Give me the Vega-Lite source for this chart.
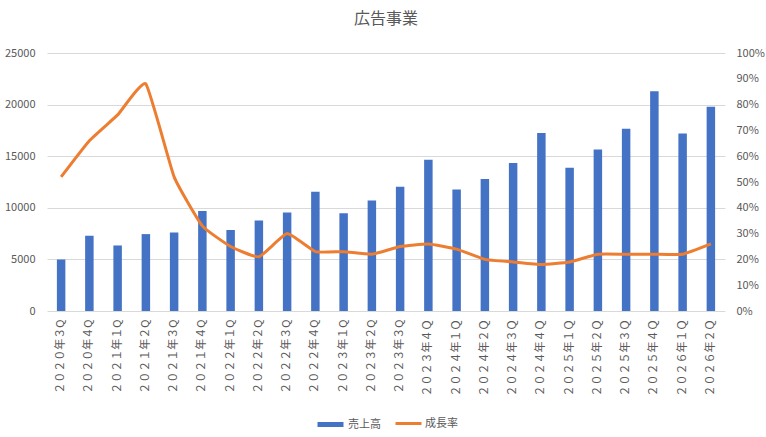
{
  "$schema": "https://vega.github.io/schema/vega-lite/v6.json",
  "width": 678,
  "height": 258,
  "autosize": {"type": "none"},
  "padding": {"left": 47, "top": 53, "right": 41, "bottom": 126},
  "title": {
    "text": "広告事業",
    "anchor": "middle",
    "offset": 20,
    "fontSize": 16,
    "fontWeight": "normal",
    "color": "#595959",
    "font": "Noto Sans CJK JP"
  },
  "config": {
    "view": {"stroke": null},
    "font": "Noto Sans CJK JP",
    "axis": {
      "labelColor": "#595959",
      "labelFontSize": 11,
      "labelFont": "Noto Sans CJK JP",
      "domain": false,
      "ticks": false,
      "gridColor": "#D9D9D9",
      "gridWidth": 1,
      "title": null
    },
    "legend": {
      "labelColor": "#595959",
      "labelFontSize": 11,
      "labelFont": "Noto Sans CJK JP"
    }
  },
  "data": {
    "values": [
      {"q": "２０２０年３Q", "sales": 5000, "rate": 0.52},
      {"q": "２０２０年４Q", "sales": 7300, "rate": 0.66},
      {"q": "２０２１年１Q", "sales": 6350, "rate": 0.76},
      {"q": "２０２１年２Q", "sales": 7450, "rate": 0.88},
      {"q": "２０２１年３Q", "sales": 7600, "rate": 0.52},
      {"q": "２０２１年４Q", "sales": 9700, "rate": 0.33},
      {"q": "２０２２年１Q", "sales": 7850, "rate": 0.25},
      {"q": "２０２２年２Q", "sales": 8770, "rate": 0.21},
      {"q": "２０２２年３Q", "sales": 9550, "rate": 0.30},
      {"q": "２０２２年４Q", "sales": 11550, "rate": 0.23},
      {"q": "２０２３年１Q", "sales": 9480, "rate": 0.23},
      {"q": "２０２３年２Q", "sales": 10700, "rate": 0.22},
      {"q": "２０２３年３Q", "sales": 12030, "rate": 0.25},
      {"q": "２０２３年４Ｑ", "sales": 14650, "rate": 0.26},
      {"q": "２０２４年１Ｑ", "sales": 11780, "rate": 0.24},
      {"q": "２０２４年２Ｑ", "sales": 12800, "rate": 0.20},
      {"q": "２０２４年３Ｑ", "sales": 14350, "rate": 0.19},
      {"q": "２０２４年４Ｑ", "sales": 17260, "rate": 0.18},
      {"q": "２０２５年１Ｑ", "sales": 13870, "rate": 0.19},
      {"q": "２０２５年２Ｑ", "sales": 15640, "rate": 0.22},
      {"q": "２０２５年３Ｑ", "sales": 17650, "rate": 0.22},
      {"q": "２０２５年４Ｑ", "sales": 21290, "rate": 0.22},
      {"q": "２０２６年１Ｑ", "sales": 17190, "rate": 0.22},
      {"q": "２０２６年２Ｑ", "sales": 19800, "rate": 0.26}
    ]
  },
  "layer": [
    {
      "mark": {"type": "bar", "color": "#4472C4"},
      "encoding": {
        "x": {
          "field": "q",
          "type": "nominal",
          "sort": null,
          "scale": {"paddingInner": 0.7, "paddingOuter": 0.35},
          "axis": {"labelAngle": -90, "labelPadding": 8, "grid": false}
        },
        "y": {
          "field": "sales",
          "type": "quantitative",
          "scale": {"domain": [0, 25000]},
          "axis": {
            "values": [0, 5000, 10000, 15000, 20000, 25000],
            "grid": true,
            "labelPadding": 12,
            "format": "d"
          }
        },
        "color": {
          "datum": "売上高",
          "scale": {"range": ["#4472C4"]},
          "legend": {
            "title": null,
            "orient": "none",
            "legendX": 268,
            "legendY": 356,
            "symbolType": "stroke",
            "symbolSize": 676,
            "symbolStrokeColor": "#4472C4",
            "symbolStrokeWidth": 5,
            "labelOffset": 2
          }
        }
      }
    },
    {
      "mark": {
        "type": "line",
        "color": "#ED7D31",
        "strokeWidth": 3,
        "interpolate": "cardinal",
        "tension": 0.6
      },
      "encoding": {
        "x": {"field": "q", "type": "nominal", "sort": null},
        "y": {
          "field": "rate",
          "type": "quantitative",
          "scale": {"domain": [0, 1]},
          "axis": {
            "orient": "right",
            "values": [0, 0.1, 0.2, 0.3, 0.4, 0.5, 0.6, 0.7, 0.8, 0.9, 1],
            "format": ".0%",
            "grid": false,
            "labelPadding": 11
          }
        },
        "stroke": {
          "datum": "成長率",
          "scale": {"range": ["#ED7D31"]},
          "legend": {
            "title": null,
            "orient": "none",
            "legendX": 347,
            "legendY": 356,
            "symbolType": "stroke",
            "symbolSize": 676,
            "symbolStrokeWidth": 3,
            "labelOffset": 2
          }
        }
      }
    }
  ],
  "resolve": {"scale": {"y": "independent"}}
}
